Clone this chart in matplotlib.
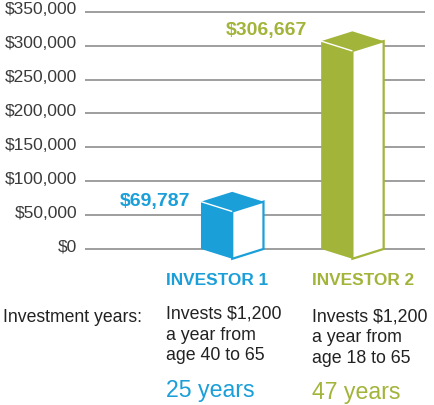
import matplotlib
matplotlib.use('Agg')
import matplotlib.pyplot as plt
from matplotlib.patches import Polygon

plt.rcParams['font.family'] = ['Liberation Sans', 'DejaVu Sans']

# data
investors = ['INVESTOR 1', 'INVESTOR 2']
values = [69787, 306667]
value_labels = ['$69,787', '$306,667']
details = [['Invests $1,200', 'a year from', 'age 40 to 65'],
           ['Invests $1,200', 'a year from', 'age 18 to 65']]
years = ['25 years', '47 years']
yticks = [0, 50000, 100000, 150000, 200000, 250000, 300000, 350000]
ytick_labels = ['$0', '$50,000', '$100,000', '$150,000', '$200,000',
                '$250,000', '$300,000', '$350,000']

colors = ['#1a9fd9', '#a3b43a']
W, H = 435, 405

fig = plt.figure(figsize=(W / 100, H / 100), dpi=100)

def px(x, y):
    return x / W, 1 - y / H

# axes placed in pixel space: left 85, right 425, y 5..262.5
ax = fig.add_axes([85 / W, 1 - 262.5 / H, 340 / W, 257.5 / H])
ax.set_xlim(-1.225, 1.604)
ax.set_ylim(-20000, 360000)
ax.axis('off')

for t, lab in zip(yticks, ytick_labels):
    ax.axhline(t, color='#8e8e8e', lw=1.2, zorder=1)
    ax.annotate(lab, xy=(0, t), xycoords=ax.get_yaxis_transform(),
                xytext=(-8, -2.5), textcoords='offset pixels',
                ha='right', va='baseline', fontsize=12.5, color='#3a3a3a',
                annotation_clip=False)

hw = 0.26     # half width of a cube
d = 14500     # depth offset in data units
label_off = [(-42, -4.5), (-45.5, 6.4)]

for i, (v, c) in enumerate(zip(values, colors)):
    left = [(i - hw, 0), (i, -d), (i, v - d), (i - hw, v)]
    right = [(i, -d), (i + hw, 0), (i + hw, v), (i, v - d)]
    top = [(i - hw, v), (i, v - d), (i + hw, v), (i, v + d)]
    ax.add_patch(Polygon(left, closed=True, facecolor=c, edgecolor='none', zorder=3))
    ax.add_patch(Polygon(right, closed=True, facecolor='white', edgecolor=c,
                         lw=1.6, joinstyle='miter', zorder=3))
    ax.add_patch(Polygon(top, closed=True, facecolor=c, edgecolor='none', zorder=4))
    ax.plot([i - hw, i], [v, v - d], color='white', lw=1.0, zorder=5,
            solid_capstyle='butt')
    ax.annotate(value_labels[i], xy=(i, v), xytext=label_off[i],
                textcoords='offset pixels', ha='right', va='baseline',
                fontsize=14, fontweight='bold', color=c, annotation_clip=False)

# text under the chart
fig.text(*px(3, 321.5), 'Investment years:', fontsize=12.7, color='#222222',
         va='baseline', ha='left')

col_x = [166, 312]
head_y = [285, 285]
line_y = [[318.5, 339.5, 360.5], [321.5, 342, 363]]
years_y = [396.7, 399.3]
for i in range(2):
    fig.text(*px(col_x[i], head_y[i]), investors[i], fontsize=12.4,
             fontweight='bold', color=colors[i], va='baseline', ha='left')
    for line, y in zip(details[i], line_y[i]):
        fig.text(*px(col_x[i], y), line, fontsize=12.8, color='#222222',
                 va='baseline', ha='left')
    fig.text(*px(col_x[i], years_y[i]), years[i], fontsize=16.7,
             color=colors[i], va='baseline', ha='left')

fig.savefig('out.png', dpi=100)
